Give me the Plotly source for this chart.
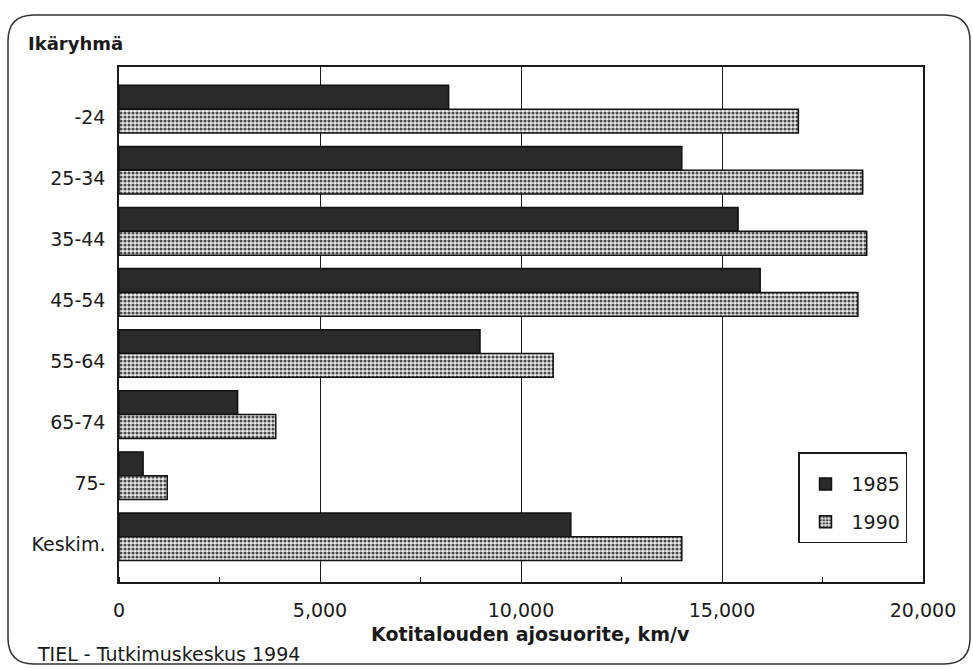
import plotly.graph_objects as go

# Household driving distance by age group of the head of household
groups = ["-24", "25-34", "35-44", "45-54", "55-64", "65-74", "75-", "Keskim."]
km_1985 = [8200, 14000, 15400, 15950, 8980, 2950, 600, 11240]
km_1990 = [16900, 18500, 18600, 18380, 10800, 3900, 1200, 14000]
years = ["1985", "1990"]
x_ticks = [0, 5000, 10000, 15000, 20000]

FONT = "DejaVu Sans"
INK = "#1a1a1a"
W, H = 973, 669
L, R, T, B = 119, 923, 67, 582   # plot area in pixels


def px(x):
    return (x - L) / (R - L)


def py(y):
    return (B - y) / (B - T)


pos = list(range(len(groups)))
bar_w = 0.39

fig = go.Figure()
fig.add_trace(go.Bar(
    y=pos, x=km_1985, orientation="h", name=years[0],
    width=bar_w, offset=-bar_w, legendgroup="a",
    marker=dict(color="#2a2a2a", line=dict(color="#111", width=1.5)),
))
fig.add_trace(go.Bar(
    y=pos, x=km_1990, orientation="h", name=years[1],
    width=bar_w, offset=0, legendgroup="b",
    marker=dict(
        color="#444",
        line=dict(color="#111", width=1.5),
        pattern=dict(shape=".", fgcolor="#4a4a4a", bgcolor="#eeeeee",
                     size=4, solidity=0.5, fillmode="replace"),
    ),
))

fig.update_layout(
    width=W, height=H,
    margin=dict(l=L, r=W - R, t=T, b=H - B, autoexpand=False),
    paper_bgcolor="white", plot_bgcolor="white",
    barmode="overlay",
    font=dict(family=FONT, size=19, color=INK),
    legend=dict(
        x=px(907), y=py(452), xanchor="right", yanchor="top",
        bordercolor=INK, borderwidth=1.5, bgcolor="white",
        font=dict(size=19), tracegroupgap=10, itemwidth=42,
        title=dict(text=" ", font=dict(size=9)),
    ),
    showlegend=True,
)

fig.update_xaxes(
    range=[0, 20000], tickvals=x_ticks, tickformat=",",
    ticks="", showgrid=True, gridcolor=INK, gridwidth=1,
    showline=True, linecolor=INK, linewidth=1.5, mirror=True,
    zeroline=False, ticklabelstandoff=10,
    minor=dict(dtick=2500, ticks="inside", ticklen=5, tickcolor=INK,
               showgrid=False),
)
fig.update_yaxes(
    range=[7.74, -0.69], tickvals=[p + 0.13 for p in pos], ticktext=groups,
    ticks="", showgrid=False, zeroline=False,
    showline=True, linecolor=INK, linewidth=1.5, mirror=True,
    ticklabelstandoff=8,
)

fig.add_annotation(text="<b>Ikäryhmä</b>", xref="paper", yref="paper",
                   x=px(26), y=py(44), xanchor="left", yanchor="middle",
                   showarrow=False, font=dict(size=18, color=INK))
fig.add_annotation(text="<b>Kotitalouden ajosuorite, km/v</b>",
                   xref="paper", yref="paper", x=px(530), y=py(634),
                   xanchor="center", yanchor="middle", showarrow=False,
                   font=dict(size=19, color=INK))
fig.add_annotation(text="TIEL - Tutkimuskeskus 1994", xref="paper",
                   yref="paper", x=px(35), y=py(654), xanchor="left",
                   yanchor="middle", showarrow=False,
                   font=dict(size=19, color=INK))

# Rounded frame around the whole chart
x0, x1, y0, y1, r = 8, 970, 15, 664, 26
rx, ry = r / (R - L), r / (B - T)
X0, X1, Y0, Y1 = px(x0), px(x1), py(y0), py(y1)
path = (f"M {X0 + rx},{Y0} L {X1 - rx},{Y0} Q {X1},{Y0} {X1},{Y0 - ry} "
        f"L {X1},{Y1 + ry} Q {X1},{Y1} {X1 - rx},{Y1} "
        f"L {X0 + rx},{Y1} Q {X0},{Y1} {X0},{Y1 + ry} "
        f"L {X0},{Y0 - ry} Q {X0},{Y0} {X0 + rx},{Y0} Z")
fig.add_shape(type="path", path=path, xref="paper", yref="paper",
              line=dict(color="#333", width=1.5), layer="below")

fig.write_html("out.html")
